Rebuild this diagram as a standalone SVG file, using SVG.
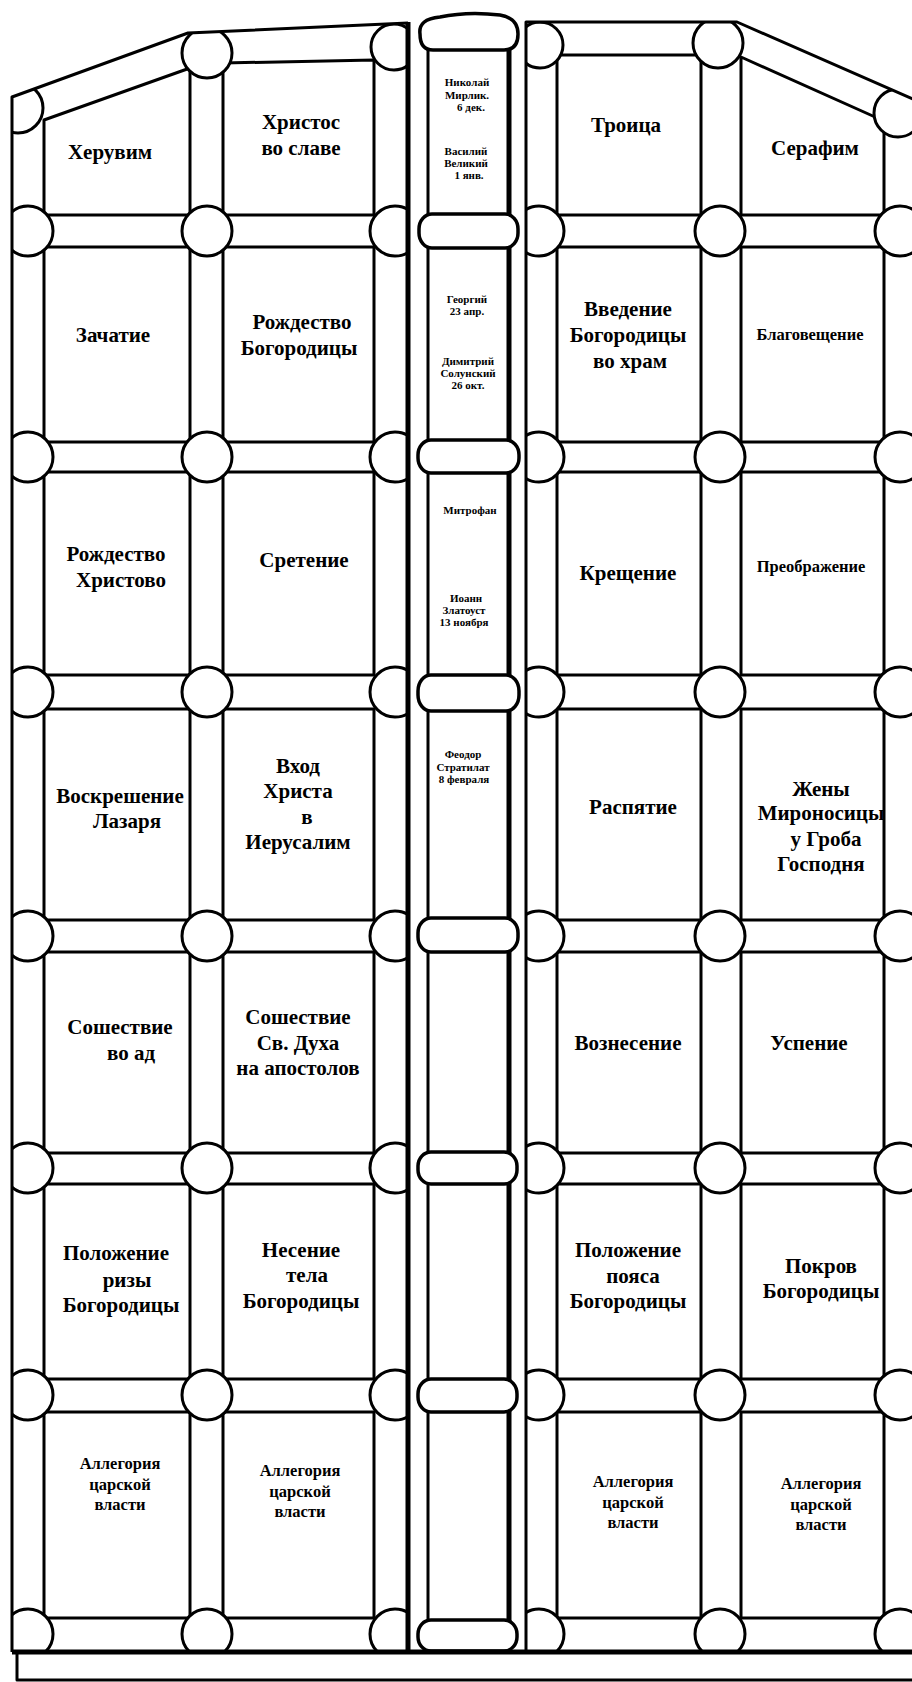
<svg xmlns="http://www.w3.org/2000/svg" width="912" height="1682" viewBox="0 0 912 1682">
<style>
.ln{fill:none;stroke:#000;stroke-width:3;stroke-linejoin:round}
.thk{fill:none;stroke:#000;stroke-width:5}
.pn{fill:#fff;stroke:#000;stroke-width:3;stroke-linejoin:round}
.ci{fill:#fff;stroke:#000;stroke-width:3}
.cap{fill:#fff;stroke:#000;stroke-width:3.5}
text{font-family:"Liberation Serif","Times New Roman",serif;font-weight:bold;font-size:21px;text-anchor:middle;fill:#000}
.s{font-size:11px}
.m{font-size:16.5px}
</style>
<defs>
<clipPath id="cl"><polygon points="12,97 188,33 408,23 408,1652 12,1652"/></clipPath>
<clipPath id="cr"><polygon points="526,22 737,22 940,111 940,1652 526,1652"/></clipPath>
<circle id="c" r="25"/>
</defs>
<rect width="912" height="1682" fill="#fff"/>

<g id="frame">
<polygon points="12,97 188,33 408,23 408,1652 12,1652" fill="#fff"/>
<polygon points="526,22 737,22 940,111 940,1652 526,1652" fill="#fff"/>
</g>

<g id="left-door">
<g id="L11"><polygon class="pn" points="44,120 190,68 190,215 44,215"/><text x="110" y="159">Херувим</text></g>
<g id="L12"><polygon class="pn" points="223,63 374,60 374,215 223,215"/><text x="301" y="129">Христос</text><text x="301" y="155">во славе</text></g>
<g id="L21"><rect class="pn" x="44" y="247" width="146" height="195"/><text x="113" y="342">Зачатие</text></g>
<g id="L22"><rect class="pn" x="223" y="247" width="151" height="195"/><text x="302" y="329">Рождество</text><text x="299" y="355">Богородицы</text></g>
<g id="L31"><rect class="pn" x="44" y="472" width="146" height="203"/><text x="116" y="561">Рождество</text><text x="121" y="587">Христово</text></g>
<g id="L32"><rect class="pn" x="223" y="472" width="151" height="203"/><text x="304" y="567">Сретение</text></g>
<g id="L41"><rect class="pn" x="44" y="709" width="146" height="211"/><text x="120" y="803">Воскрешение</text><text x="127" y="828">Лазаря</text></g>
<g id="L42"><rect class="pn" x="223" y="709" width="151" height="211"/><text x="298" y="773">Вход</text><text x="298" y="798">Христа</text><text x="307" y="824">в</text><text x="298" y="849">Иерусалим</text></g>
<g id="L51"><rect class="pn" x="44" y="952" width="146" height="201"/><text x="120" y="1034">Сошествие</text><text x="131" y="1060">во ад</text></g>
<g id="L52"><rect class="pn" x="223" y="952" width="151" height="201"/><text x="298" y="1024">Сошествие</text><text x="298" y="1050">Св. Духа</text><text x="298" y="1075">на апостолов</text></g>
<g id="L61"><rect class="pn" x="44" y="1184" width="146" height="195"/><text x="116" y="1260">Положение</text><text x="127" y="1287">ризы</text><text x="121" y="1312">Богородицы</text></g>
<g id="L62"><rect class="pn" x="223" y="1184" width="151" height="195"/><text x="301" y="1257">Несение</text><text x="307" y="1282">тела</text><text x="301" y="1308">Богородицы</text></g>
<g id="L71"><rect class="pn" x="44" y="1412" width="146" height="206"/><text class="m" x="120" y="1469">Аллегория</text><text class="m" x="120" y="1490">царской</text><text class="m" x="120" y="1510">власти</text></g>
<g id="L72"><rect class="pn" x="223" y="1412" width="151" height="206"/><text class="m" x="300" y="1476">Аллегория</text><text class="m" x="300" y="1497">царской</text><text class="m" x="300" y="1517">власти</text></g>
</g>

<g id="right-door">
<g id="R11"><rect class="pn" x="557" y="55" width="144" height="160"/><text x="626" y="132">Троица</text></g>
<g id="R12"><polygon class="pn" points="741,57 884,121 884,215 741,215"/><text x="815" y="155">Серафим</text></g>
<g id="R21"><rect class="pn" x="557" y="247" width="144" height="195"/><text x="628" y="316">Введение</text><text x="628" y="342">Богородицы</text><text x="630" y="368">во  храм</text></g>
<g id="R22"><rect class="pn" x="741" y="247" width="143" height="195"/><text class="m" x="810" y="340">Благовещение</text></g>
<g id="R31"><rect class="pn" x="557" y="472" width="144" height="203"/><text x="628" y="580">Крещение</text></g>
<g id="R32"><rect class="pn" x="741" y="472" width="143" height="203"/><text class="m" x="811" y="572">Преображение</text></g>
<g id="R41"><rect class="pn" x="557" y="709" width="144" height="211"/><text x="633" y="814">Распятие</text></g>
<g id="R42"><rect class="pn" x="741" y="709" width="143" height="211"/><text x="821" y="796">Жены</text><text x="821" y="820">Мироносицы</text><text x="826" y="846">у Гроба</text><text x="821" y="871">Господня</text></g>
<g id="R51"><rect class="pn" x="557" y="952" width="144" height="201"/><text x="628" y="1050">Вознесение</text></g>
<g id="R52"><rect class="pn" x="741" y="952" width="143" height="201"/><text x="809" y="1050">Успение</text></g>
<g id="R61"><rect class="pn" x="557" y="1184" width="144" height="195"/><text x="628" y="1257">Положение</text><text x="633" y="1283">пояса</text><text x="628" y="1308">Богородицы</text></g>
<g id="R62"><rect class="pn" x="741" y="1184" width="143" height="195"/><text x="821" y="1273">Покров</text><text x="821" y="1298">Богородицы</text></g>
<g id="R71"><rect class="pn" x="557" y="1412" width="144" height="206"/><text class="m" x="633" y="1487">Аллегория</text><text class="m" x="633" y="1508">царской</text><text class="m" x="633" y="1528">власти</text></g>
<g id="R72"><rect class="pn" x="741" y="1412" width="143" height="206"/><text class="m" x="821" y="1489">Аллегория</text><text class="m" x="821" y="1510">царской</text><text class="m" x="821" y="1530">власти</text></g>
</g>

<g id="bosses-left" clip-path="url(#cl)">
<circle class="ci" cx="18" cy="108" r="25"/><circle class="ci" cx="207" cy="53" r="25"/><circle class="ci" cx="394" cy="47" r="23"/>
<use href="#c" class="ci" x="28" y="231"/><use href="#c" class="ci" x="207" y="231"/><use href="#c" class="ci" x="395" y="231"/>
<use href="#c" class="ci" x="28" y="457"/><use href="#c" class="ci" x="207" y="457"/><use href="#c" class="ci" x="395" y="457"/>
<use href="#c" class="ci" x="28" y="692"/><use href="#c" class="ci" x="207" y="692"/><use href="#c" class="ci" x="395" y="692"/>
<use href="#c" class="ci" x="28" y="936"/><use href="#c" class="ci" x="207" y="936"/><use href="#c" class="ci" x="395" y="936"/>
<use href="#c" class="ci" x="28" y="1168"/><use href="#c" class="ci" x="207" y="1168"/><use href="#c" class="ci" x="395" y="1168"/>
<use href="#c" class="ci" x="28" y="1395"/><use href="#c" class="ci" x="207" y="1395"/><use href="#c" class="ci" x="395" y="1395"/>
<use href="#c" class="ci" x="28" y="1634"/><use href="#c" class="ci" x="207" y="1634"/><use href="#c" class="ci" x="395" y="1634"/>
</g>
<g id="bosses-right" clip-path="url(#cr)">
<circle class="ci" cx="540" cy="45" r="23"/><circle class="ci" cx="718" cy="43" r="25"/><circle class="ci" cx="898" cy="113" r="24"/>
<use href="#c" class="ci" x="539" y="231"/><use href="#c" class="ci" x="720" y="231"/><use href="#c" class="ci" x="900" y="231"/>
<use href="#c" class="ci" x="539" y="457"/><use href="#c" class="ci" x="720" y="457"/><use href="#c" class="ci" x="900" y="457"/>
<use href="#c" class="ci" x="539" y="692"/><use href="#c" class="ci" x="720" y="692"/><use href="#c" class="ci" x="900" y="692"/>
<use href="#c" class="ci" x="539" y="936"/><use href="#c" class="ci" x="720" y="936"/><use href="#c" class="ci" x="900" y="936"/>
<use href="#c" class="ci" x="539" y="1168"/><use href="#c" class="ci" x="720" y="1168"/><use href="#c" class="ci" x="900" y="1168"/>
<use href="#c" class="ci" x="539" y="1395"/><use href="#c" class="ci" x="720" y="1395"/><use href="#c" class="ci" x="900" y="1395"/>
<use href="#c" class="ci" x="539" y="1634"/><use href="#c" class="ci" x="720" y="1634"/><use href="#c" class="ci" x="900" y="1634"/>
</g>

<g id="center-column">
<line x1="428" y1="40" x2="428" y2="1640" stroke="#000" stroke-width="3"/>
<line x1="509" y1="40" x2="509" y2="1640" stroke="#000" stroke-width="5"/>
<path class="cap" d="M420,34 Q418,19 440,17 Q468,11 500,15 Q518,18 518,34 Q518,50 504,50 L433,50 Q420,50 420,34 Z"/>
<rect class="cap" x="419" y="214" width="99" height="34" rx="13" ry="15"/>
<rect class="cap" x="418" y="440" width="101" height="33" rx="13" ry="15"/>
<rect class="cap" x="418" y="675" width="101" height="36" rx="13" ry="16"/>
<rect class="cap" x="418" y="918" width="100" height="34" rx="13" ry="15"/>
<rect class="cap" x="418" y="1152" width="99" height="32" rx="13" ry="14"/>
<rect class="cap" x="418" y="1379" width="99" height="33" rx="13" ry="15"/>
<rect class="cap" x="418" y="1620" width="99" height="31" rx="13" ry="14"/>
<g id="C1"><text class="s" x="467" y="86">Николай</text><text class="s" x="467" y="99">Мирлик.</text><text class="s" x="471" y="111">6 дек.</text><text class="s" x="466" y="155">Василий</text><text class="s" x="466" y="167">Великий</text><text class="s" x="469" y="179">1 янв.</text></g>
<g id="C2"><text class="s" x="467" y="303">Георгий</text><text class="s" x="467" y="315">23 апр.</text><text class="s" x="468" y="365">Димитрий</text><text class="s" x="468" y="377">Солунский</text><text class="s" x="468" y="389">26 окт.</text></g>
<g id="C3"><text class="s" x="470" y="514">Митрофан</text><text class="s" x="466" y="602">Иоанн</text><text class="s" x="464" y="614">Златоуст</text><text class="s" x="464" y="626">13 ноября</text></g>
<g id="C4"><text class="s" x="463" y="758">Феодор</text><text class="s" x="463" y="771">Стратилат</text><text class="s" x="464" y="783">8 февраля</text></g>
</g>

<g id="outlines">
<polyline class="ln" points="408,23 188,33 12,97 12,1652"/>
<polyline class="ln" points="940,111 737,22 526,22 526,1652"/>
<line class="thk" x1="408" y1="22" x2="408" y2="1652"/>
<line class="thk" x1="12" y1="1652" x2="912" y2="1652"/>
<polyline class="ln" points="17,1652 17,1680 920,1680" stroke-width="2.5"/>
</g>
</svg>
